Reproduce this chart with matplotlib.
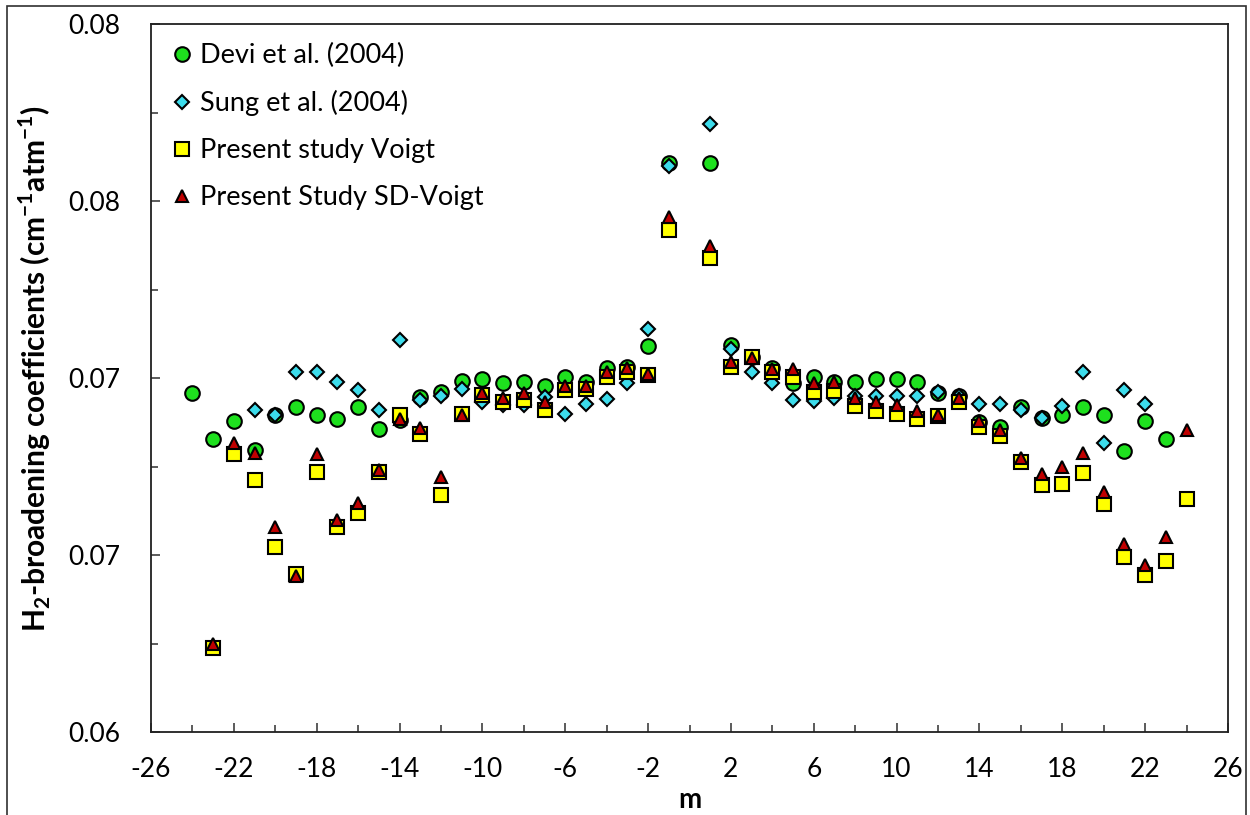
import numpy as np
import matplotlib.pyplot as plt
from matplotlib.patches import Rectangle

plt.rcParams['font.family'] = ['Lato', 'DejaVu Sans']
plt.rcParams['mathtext.fontset'] = 'custom'
plt.rcParams['mathtext.rm'] = 'Lato'
plt.rcParams['mathtext.bf'] = 'Lato:bold'
plt.rcParams['axes.unicode_minus'] = False

# data
m_devi = [-24, -23, -22, -21, -20, -19, -18, -17, -16, -15, -14, -13, -12, -11, -10, -9, -8, -7, -6, -5, -4, -3, -2, -1,
          1, 2, 3, 4, 5, 6, 7, 8, 9, 10, 11, 12, 13, 14, 15, 16, 17, 18, 19, 20, 21, 22, 23]
devi = [0.06957, 0.06827, 0.06879, 0.06797, 0.06896, 0.06918, 0.06896, 0.06886, 0.06918, 0.06856, 0.06882, 0.06948,
        0.06960, 0.06992, 0.06998, 0.06987, 0.06990, 0.06979, 0.07002, 0.06990, 0.07028, 0.07032, 0.07091, 0.07607,
        0.07607, 0.07094, 0.07060, 0.07028, 0.06985, 0.07002, 0.06990, 0.06990, 0.06997, 0.06997, 0.06990, 0.06959,
        0.06950, 0.06877, 0.06863, 0.06918, 0.06887, 0.06896, 0.06918, 0.06896, 0.06795, 0.06880, 0.06827]

m_sung = [-21, -20, -19, -18, -17, -16, -15, -14, -13, -12, -11, -10, -9, -8, -7, -6, -5, -4, -3, -2, -1,
          1, 2, 3, 4, 5, 6, 7, 8, 9, 10, 11, 12, 13, 14, 15, 16, 17, 18, 19, 20, 21, 22]
sung = [0.06910, 0.06896, 0.07018, 0.07018, 0.06990, 0.06967, 0.06910, 0.07108, 0.06938, 0.06950, 0.06968, 0.06934,
        0.06924, 0.06924, 0.06948, 0.06898, 0.06927, 0.06940, 0.06985, 0.07138, 0.07600,
        0.07719, 0.07081, 0.07018, 0.06985, 0.06938, 0.06935, 0.06943, 0.06950, 0.06950, 0.06950, 0.06950, 0.06962,
        0.06950, 0.06927, 0.06927, 0.06910, 0.06887, 0.06920, 0.07018, 0.06818, 0.06967, 0.06927]

m_present = [-23, -22, -21, -20, -19, -18, -17, -16, -15, -14, -13, -12, -11, -10, -9, -8, -7, -6, -5, -4, -3, -2, -1,
             1, 2, 3, 4, 5, 6, 7, 8, 9, 10, 11, 12, 13, 14, 15, 16, 17, 18, 19, 20, 21, 22, 23, 24]
voigt = [0.06238, 0.06785, 0.06712, 0.06524, 0.06447, 0.06734, 0.06581, 0.06618, 0.06734, 0.06896, 0.06841, 0.06670,
         0.06898, 0.06952, 0.06934, 0.06938, 0.06910, 0.06967, 0.06968, 0.07004, 0.07018, 0.07009, 0.07418,
         0.07338, 0.07032, 0.07060, 0.07018, 0.07004, 0.06960, 0.06965, 0.06920, 0.06908, 0.06899, 0.06884, 0.06893,
         0.06934, 0.06863, 0.06837, 0.06764, 0.06698, 0.06701, 0.06733, 0.06645, 0.06496, 0.06444, 0.06485, 0.06658]
sd_voigt = [0.06250, 0.06818, 0.06788, 0.06581, 0.06440, 0.06786, 0.06600, 0.06647, 0.06741, 0.06886, 0.06858, 0.06722,
            0.06896, 0.06957, 0.06943, 0.06957, 0.06934, 0.06978, 0.06978, 0.07018, 0.07028, 0.07012, 0.07456,
            0.07372, 0.07047, 0.07058, 0.07025, 0.07025, 0.06987, 0.06990, 0.06943, 0.06934, 0.06924, 0.06908, 0.06896,
            0.06943, 0.06880, 0.06855, 0.06774, 0.06729, 0.06748, 0.06788, 0.06678, 0.06532, 0.06472, 0.06552, 0.06854]

yticks = [0.06, 0.065, 0.07, 0.075, 0.08]
ytick_labels = ['0.06', '0.07', '0.07', '0.08', '0.08']
xticks = [-26, -22, -18, -14, -10, -6, -2, 2, 6, 10, 14, 18, 22, 26]

fig = plt.figure(figsize=(12.5, 8.15), dpi=100)
ax = fig.add_axes([151 / 1250, 1 - 732.3 / 815, 1077 / 1250, 708.3 / 815])

edge = dict(markeredgecolor='black', markeredgewidth=1.5, linestyle='none')
ax.plot(m_devi, devi, 'o', color='#1EE01E', markersize=10.5, label='Devi et al. (2004)', **edge)
ax.plot(m_sung, sung, 'D', color='#3CDCEB', markersize=6.8, label='Sung et al. (2004)', **edge)
ax.plot(m_present, voigt, 's', color='#FFFF00', markersize=10.5, label='Present study Voigt', **edge)
ax.plot(m_present, sd_voigt, '^', color='#C00000', markersize=8.5, label='Present Study SD-Voigt', **edge)

ax.set_xlim(-26, 26)
ax.set_ylim(0.06, 0.08)
ax.set_xticks(xticks)
ax.set_xticks([-24, -20, -16, -12, -8, -4, 0, 4, 8, 12, 16, 20, 24], minor=True)
ax.set_yticks(yticks)
ax.set_yticklabels(ytick_labels)
ax.set_yticks([0.0625, 0.0675, 0.0725, 0.0775], minor=True)
ax.tick_params(which='both', direction='in', width=1.2, color='#404040', labelsize=19)
ax.tick_params(which='major', length=6.5)
ax.tick_params(which='minor', length=5)
ax.tick_params(axis='x', pad=18)
ax.tick_params(axis='y', pad=22)
for s in ax.spines.values():
    s.set_color('#202020')
    s.set_linewidth(1.3)

ax.set_xlabel('m', fontsize=20, fontweight='bold', va='center')
ax.xaxis.set_label_coords(0.5, -0.0956)
ax.set_ylabel(r'H$_{\mathbf{2}}$-broadening coefficients (cm$^{\mathbf{-1}}$atm$^{\mathbf{-1}}$)',
              fontsize=21.5, fontweight='bold', va='center', ha='center')
ax.yaxis.set_label_coords(-0.1077, 0.514)

ax.legend(loc='upper left', bbox_to_anchor=(20 / 1077, 0.973), frameon=False, fontsize=19.5,
          handlelength=0.8, handletextpad=0.27, labelspacing=0.81, borderpad=0, borderaxespad=0, numpoints=1)

fig.patches.append(Rectangle((7 / 1250, -0.1), 1239 / 1250, 1.1 - 6 / 815, transform=fig.transFigure,
                             fill=False, edgecolor='#303030', linewidth=1.2))

plt.savefig('out.png', dpi=100)
